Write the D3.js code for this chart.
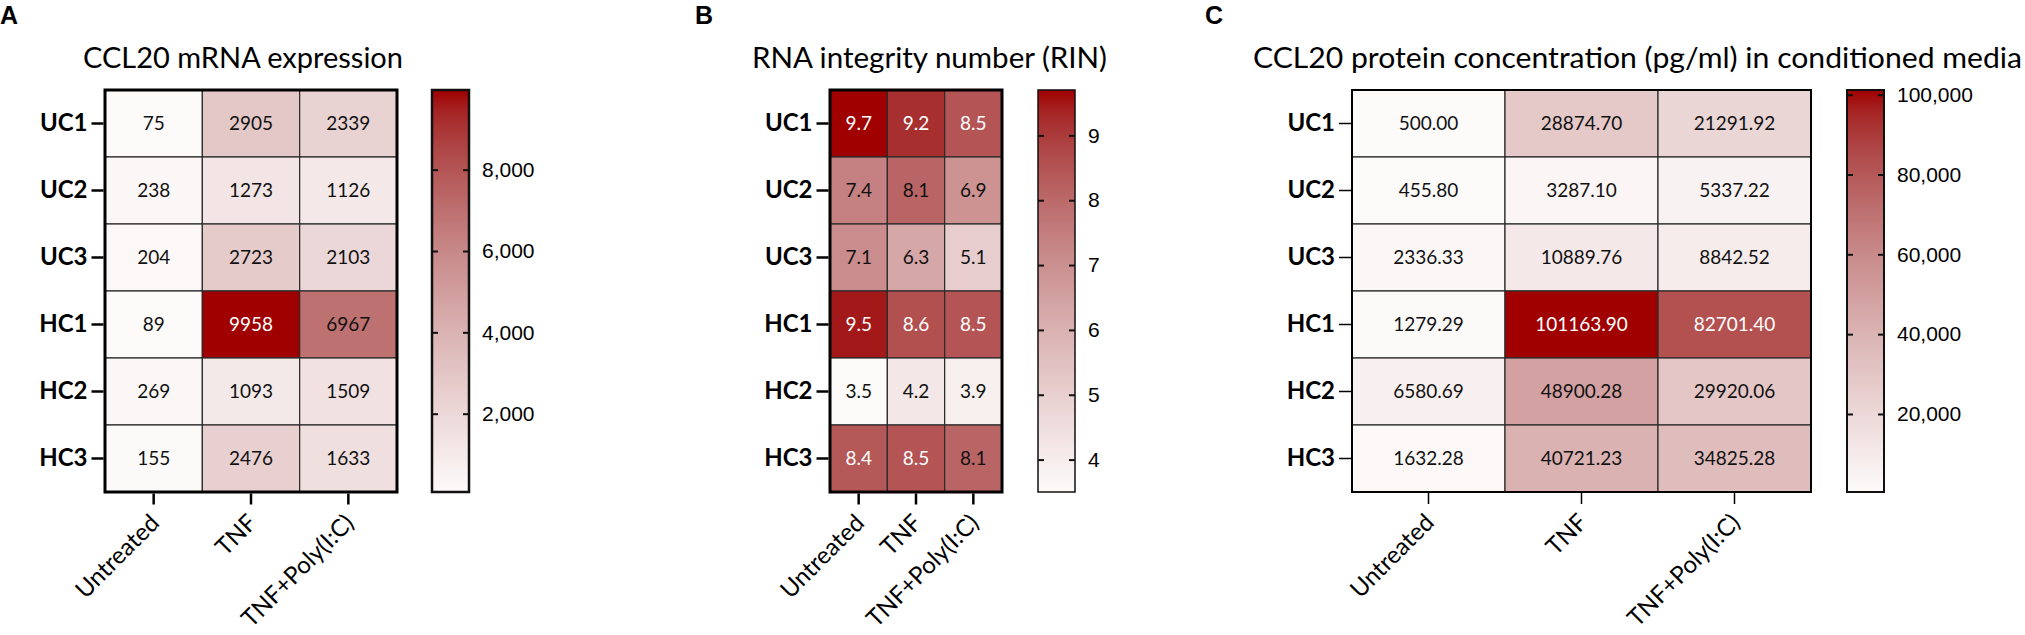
<!DOCTYPE html>
<html>
<head>
<meta charset="utf-8">
<script src="https://cdn.jsdelivr.net/npm/d3@7"></script>
<style>
  body { margin: 0; background: #fff; }
  svg { display: block; }
</style>
</head>
<body>
<svg id="chart" width="2025" height="635"></svg>
<script>
// data
const donors = ["UC1", "UC2", "UC3", "HC1", "HC2", "HC3"];
const treatments = ["Untreated", "TNF", "TNF+Poly(I:C)"];

const mrnaValues = [
  [75, 2905, 2339],
  [238, 1273, 1126],
  [204, 2723, 2103],
  [89, 9958, 6967],
  [269, 1093, 1509],
  [155, 2476, 1633]
];
const rinValues = [
  [9.7, 9.2, 8.5],
  [7.4, 8.1, 6.9],
  [7.1, 6.3, 5.1],
  [9.5, 8.6, 8.5],
  [3.5, 4.2, 3.9],
  [8.4, 8.5, 8.1]
];
const proteinValues = [
  [500.00, 28874.70, 21291.92],
  [455.80, 3287.10, 5337.22],
  [2336.33, 10889.76, 8842.52],
  [1279.29, 101163.90, 82701.40],
  [6580.69, 48900.28, 29920.06],
  [1632.28, 40721.23, 34825.28]
];

const mrnaTicks = [2000, 4000, 6000, 8000];
const rinTicks = [4, 5, 6, 7, 8, 9];
const proteinTicks = [20000, 40000, 60000, 80000, 100000];

const titles = [
  "CCL20 mRNA expression",
  "RNA integrity number (RIN)",
  "CCL20 protein concentration (pg/ml) in conditioned media"
];
const panelLetters = ["A", "B", "C"];

const svg = d3.select("#chart");
const calibri = "Lato, 'Open Sans', sans-serif";
const arial = "'Liberation Sans', Arial, sans-serif";

const lowColor = "#fdfafa", highColor = "#a00000";

function drawPanel(p) {
  const g = svg.append("g");
  const x = d3.scaleBand().domain(treatments).range([p.x0, p.x1]);
  const y = d3.scaleBand().domain(donors).range([90, 492]);
  const flat = p.values.flat();
  const color = d3.scaleLinear()
    .domain(d3.extent(flat))
    .range([lowColor, highColor])
    .interpolate(d3.interpolateRgb.gamma(1.5));
  const t = d3.scaleLinear().domain(d3.extent(flat)).range([0, 1]);

  // panel letter + title
  g.append("text").attr("x", p.letterX).attr("y", 24)
    .attr("font-family", arial).attr("font-weight", "bold").attr("font-size", 25)
    .text(p.letter);
  g.append("text").attr("x", p.titleX).attr("y", 68)
    .attr("font-family", calibri).attr("font-size", 28)
    .attr("textLength", p.titleW).attr("lengthAdjust", "spacingAndGlyphs")
    .text(p.title);

  // cells
  const cells = g.selectAll(".cell")
    .data(p.values.flatMap((row, i) => row.map((v, j) => ({ row: donors[i], col: treatments[j], v }))))
    .enter().append("g");
  cells.append("rect")
    .attr("x", d => x(d.col)).attr("y", d => y(d.row))
    .attr("width", x.bandwidth()).attr("height", y.bandwidth())
    .attr("fill", d => color(d.v))
    .attr("stroke", "#2a2a2a").attr("stroke-width", 1.2);
  cells.append("text")
    .attr("x", d => x(d.col) + x.bandwidth() / 2)
    .attr("y", d => y(d.row) + y.bandwidth() / 2)
    .attr("dy", "0.36em")
    .attr("text-anchor", "middle")
    .attr("font-family", calibri).attr("font-size", 19)
    .attr("fill", d => t(d.v) > 0.75 ? "#fff" : "#111")
    .text(d => p.fmt(d.v));

  g.append("rect")
    .attr("x", p.x0).attr("y", 90).attr("width", p.x1 - p.x0).attr("height", 402)
    .attr("fill", "none").attr("stroke", "#000").attr("stroke-width", p.frame);

  // y axis
  const yAxis = g.append("g").attr("transform", `translate(${p.x0 - p.frame / 2},0)`)
    .call(d3.axisLeft(y).tickSize(12).tickPadding(4));
  yAxis.select(".domain").remove();
  yAxis.selectAll("line").attr("stroke", "#000").attr("stroke-width", p.tickW);
  yAxis.selectAll("text").attr("font-family", calibri).attr("font-weight", "bold")
    .attr("font-size", 24).attr("fill", "#000");

  // x axis
  const xAxis = g.append("g").attr("transform", `translate(0,${492 + p.frame / 2})`)
    .call(d3.axisBottom(x).tickSize(11).tickPadding(4));
  xAxis.select(".domain").remove();
  xAxis.selectAll("line").attr("stroke", "#000").attr("stroke-width", p.tickW);
  xAxis.selectAll("text")
    .attr("font-family", calibri).attr("font-size", 24).attr("fill", "#000")
    .attr("text-anchor", "end")
    .attr("dy", null).attr("y", 0)
    .attr("transform", "translate(7,31) rotate(-45)");

  // colour bar
  const cy = d3.scaleLinear().domain(d3.extent(flat)).range([492, 90]);
  const gradId = "grad" + p.letter;
  const grad = svg.append("defs").append("linearGradient").attr("id", gradId)
    .attr("x1", 0).attr("y1", 1).attr("x2", 0).attr("y2", 0);
  d3.range(0, 1.0001, 0.05).forEach(s => {
    grad.append("stop").attr("offset", s)
      .attr("stop-color", color(cy.domain()[0] + s * (cy.domain()[1] - cy.domain()[0])));
  });
  g.append("rect").attr("x", p.cb0).attr("y", 90).attr("width", p.cb1 - p.cb0).attr("height", 402)
    .attr("fill", `url(#${gradId})`).attr("stroke", "#111").attr("stroke-width", p.cbFrame);

  const inL = g.append("g").attr("transform", `translate(${p.cb0},0)`)
    .call(d3.axisRight(cy).tickValues(p.ticks).tickSize(6).tickFormat(""));
  const inR = g.append("g").attr("transform", `translate(${p.cb1},0)`)
    .call(d3.axisLeft(cy).tickValues(p.ticks).tickSize(6).tickFormat(""));
  const lab = g.append("g").attr("transform", `translate(${p.cb1},0)`)
    .call(d3.axisRight(cy).tickValues(p.ticks).tickSize(0).tickPadding(13).tickFormat(d3.format(",")));
  [inL, inR, lab].forEach(a => {
    a.select(".domain").remove();
    a.selectAll("line").attr("stroke", "#111").attr("stroke-width", 2);
  });
  lab.selectAll("text").attr("font-family", arial).attr("font-size", 21).attr("fill", "#000");
}

drawPanel({
  letter: panelLetters[0], letterX: 0, title: titles[0], titleX: 83, titleW: 320,
  values: mrnaValues, fmt: d3.format("d"), ticks: mrnaTicks,
  x0: 105, x1: 397, cb0: 432, cb1: 469, frame: 3, tickW: 2.5, cbFrame: 2.5
});
drawPanel({
  letter: panelLetters[1], letterX: 695, title: titles[1], titleX: 752, titleW: 355,
  values: rinValues, fmt: d3.format(".1f"), ticks: rinTicks,
  x0: 830, x1: 1002, cb0: 1038, cb1: 1075, frame: 3, tickW: 2.5, cbFrame: 1.5
});
drawPanel({
  letter: panelLetters[2], letterX: 1205, title: titles[2], titleX: 1253, titleW: 769,
  values: proteinValues, fmt: d3.format(".2f"), ticks: proteinTicks,
  x0: 1352, x1: 1811, cb0: 1847, cb1: 1884, frame: 2, tickW: 1.5, cbFrame: 2
});
</script>
</body>
</html>
